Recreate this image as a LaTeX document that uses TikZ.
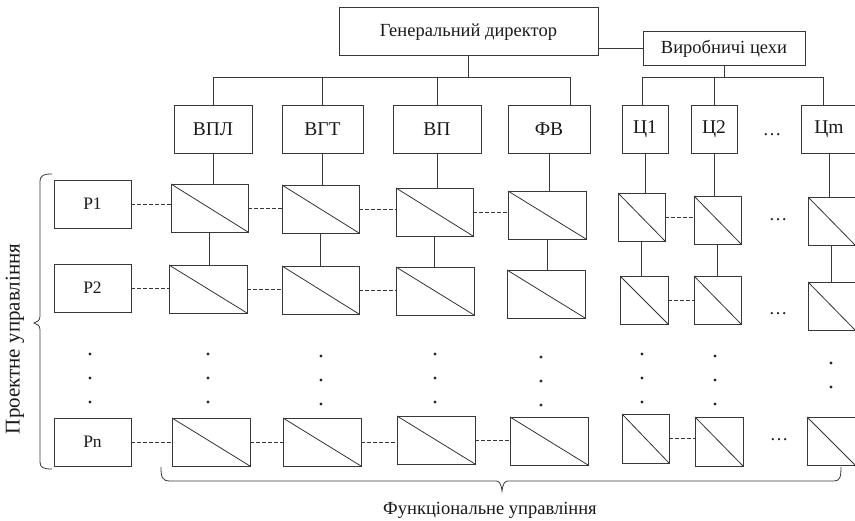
\documentclass[tikz,border=0pt]{standalone}
\usepackage{fontspec}
\setmainfont{Liberation Serif}
\usetikzlibrary{calc}
% box with a diagonal from the top-left to the bottom-right corner
\newcommand\cellbox[5]{\node[cell, minimum width=#4pt, minimum height=#5pt] (#1) at (#2,#3) {};}
% column of dots (three, or two when the last argument is n)
\newcommand\dotcol[4]{%
  \node[dotmark] (#1a) at (#2,#3) {};
  \node[dotmark] (#1b) at (#2,#3+24) {};
  \ifx#4y\node[dotmark] (#1c) at (#2,#3+48) {};\fi}
\begin{document}
\begin{tikzpicture}[x=1pt,y=-1pt,
  ln/.style={draw=black!78, line width=0.9pt},
  txt/.style={font=\fontsize{18.5}{22}\selectfont, text=black!90},
  lbl/.style={ln, txt, inner sep=0pt, outer sep=0pt},
  unit/.style={lbl, font=\fontsize{19.5}{22}\selectfont},
  proj/.style={lbl, font=\fontsize{17.5}{22}\selectfont, minimum width=77pt, minimum height=48pt},
  cell/.style={ln, inner sep=0pt, outer sep=0pt,
    path picture={\draw[black!80, line width=0.8pt]
      (path picture bounding box.north west) -- (path picture bounding box.south east);}},
  link/.style={ln},
  dashlink/.style={ln, dash pattern=on 3.5pt off 2.5pt},
  dotmark/.style={circle, fill=black!85, inner sep=0pt, minimum size=3.2pt},
  ell/.style={txt, inner sep=0pt, anchor=base}]
\useasboundingbox (0,0) rectangle (855,521);
\clip (0,0) rectangle (855,521);

% ---- top of the hierarchy
\node[lbl, minimum width=259pt, minimum height=48pt] (gd) at (468.5,31) {};
\node[txt, anchor=base] (gdtext) at (468.5,37) {Генеральний директор};
\node[lbl, minimum width=162pt, minimum height=34pt] (vc) at (724,48) {};
\node[txt, anchor=base] (vctext) at (724,54) {Виробничі цехи};
\draw[link] (vc.west) -- (vc.west -| gd.east);

% ---- departments and shops
\node[unit, minimum width=78pt, minimum height=48pt] (u1) at (213,129) {ВПЛ};
\node[unit, minimum width=81pt, minimum height=48pt] (u2) at (322.5,129) {ВГТ};
\node[unit, minimum width=88pt, minimum height=48pt] (u3) at (437,129) {ВП};
\node[unit, minimum width=82pt, minimum height=48pt] (u4) at (549,129) {ФВ};
\node[unit, minimum width=46pt, minimum height=48pt] (u5) at (645,129) {Ц1};
\node[unit, minimum width=46pt, minimum height=48pt] (u6) at (714,129) {Ц2};
\node[unit, minimum width=56pt, minimum height=48pt] (u7) at (829,129) {Цm};
\node[ell] (udots) at (772,136) {…};

\coordinate (bus) at (0,77);
\coordinate (u4top) at ($(u4.north)+(21,0)$);
\draw[link] (gd.south) -- (gd.south |- bus);
\draw[link] (u1.north) |- (u4top |- bus) -- (u4top);
\draw[link] (u2.north) -- (u2.north |- bus);
\draw[link] (u3.north) -- (u3.north |- bus);
\draw[link] (vc.south) -- (vc.south |- bus);
\draw[link] ($(u5.north)+(-3,0)$) |- ($(u7.north |- bus)+(-6,0)$) -- ($(u7.north)+(-6,0)$);
\draw[link] (u6.north) -- (u6.north |- bus);

% ---- project rows
\node[proj] (p1) at (92.5,204) {P1};
\node[proj] (p2) at (92.5,288) {P2};
\node[proj] (pn) at (92.5,442) {Pn};

% row 1
\cellbox{a1}{209.5}{208}{77}{48}
\cellbox{b1}{320.5}{209}{77}{48}
\cellbox{c1}{434.5}{212}{77}{48}
\cellbox{d1}{547}{215}{78}{48}
\cellbox{e1}{641.5}{217}{47}{48}
\cellbox{f1}{717.5}{220}{47}{48}
\cellbox{g1}{831.5}{221}{47}{48}
% row 2
\cellbox{a2}{208}{289}{78}{48}
\cellbox{b2}{320.5}{290}{77}{48}
\cellbox{c2}{435}{291}{78}{48}
\cellbox{d2}{546}{294}{78}{48}
\cellbox{e2}{644}{300}{48}{48}
\cellbox{f2}{717.5}{300}{47}{48}
\cellbox{g2}{831.5}{306}{47}{48}
% row n
\cellbox{an}{211}{442}{78}{48}
\cellbox{bn}{322}{442}{78}{48}
\cellbox{cn}{436}{440}{78}{48}
\cellbox{dn}{549}{441}{78}{48}
\cellbox{en}{645.5}{438.5}{47}{49}
\cellbox{fn}{719}{441.5}{48}{49}
\cellbox{gn}{831}{441}{48}{48}

% department stems down to row 1
\foreach \u/\c in {u1/a1,u2/b1,u3/c1,u4/d1,u5/e1,u6/f1,u7/g1}
  \draw[link] (\u.south) -- (\u.south |- \c.north);
% row 1 to row 2
\foreach \c/\d in {a1/a2,b1/b2,c1/c2,d1/d2,e1/e2,f1/f2,g1/g2}
  \draw[link] (\c.south) -- (\c.south |- \d.north);

% dashed links along the rows
\foreach \l/\r in {p1/a1,a1/b1,b1/c1,c1/d1,e1/f1,
                   p2/a2,a2/b2,b2/c2,e2/f2,
                   pn/an,an/bn,bn/cn,cn/dn,en/fn}
  \draw[dashlink] (\l.east) -- (\l.east -| \r.west);

\node[ell] (r1dots) at (778,221) {…};
\node[ell] (r2dots) at (778,315) {…};
\node[ell] (rndots) at (779,441) {…};

% vertical ellipses
\dotcol{dp}{90}{354}{y}
\dotcol{da}{208}{354}{y}
\dotcol{db}{321}{356}{y}
\dotcol{dc}{435}{354}{y}
\dotcol{dd}{541}{357}{y}
\dotcol{de}{642}{354}{y}
\dotcol{df}{715}{356}{y}
\dotcol{dg}{831}{363}{n}

% ---- braces
\draw[ln, line width=0.8pt] (52,174) .. controls (44,174) and (40,175) .. (40,182)
  -- (40,316) .. controls (40,321) and (37,322) .. (34,323)
  .. controls (37,324) and (40,325) .. (40,330)
  -- (40,462) .. controls (40,468) and (44,469) .. (52,469);
\node[txt, rotate=90, font=\fontsize{21}{24}\selectfont] (projlabel) at (15,339) {Проектне управління};

\draw[ln, line width=0.8pt] (161,467) .. controls (161,477) and (162,481) .. (170,481)
  -- (496,481) .. controls (499,481) and (501,483) .. (502,491)
  .. controls (503,483) and (505,481) .. (508,481)
  -- (834,481) .. controls (840,481) and (841,477) .. (841,467);
\node[txt] (func) at (490,510) {Функціональне управління};
\end{tikzpicture}
\end{document}
